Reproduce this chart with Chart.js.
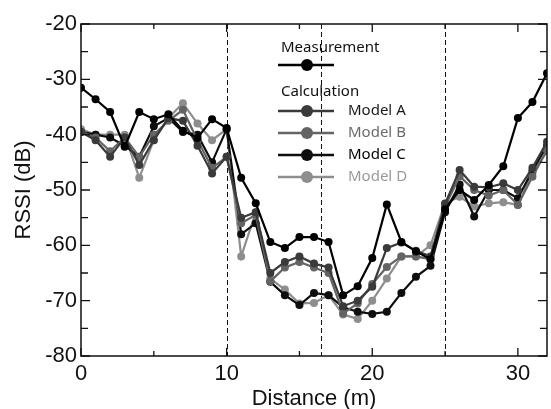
<!DOCTYPE html>
<html>
<head>
<meta charset="utf-8">
<script src="https://cdn.jsdelivr.net/npm/chart.js@4"></script>
<style>
  html, body { margin: 0; padding: 0; background: #fff; }
  #wrap { width: 551px; height: 409px; }
</style>
</head>
<body>
<div id="wrap"><canvas id="rssiChart"></canvas></div>
<script>
// distance along the route (m)
const distance = [0, 1, 2, 3, 4, 5, 6, 7, 8, 9, 10, 11, 12, 13, 14, 15, 16,
  17, 18, 19, 20, 21, 22, 23, 24, 25, 26, 27, 28, 29, 30, 31, 32];

// RSSI (dB)
const measurement = [-31.5, -33.6, -35.9, -42.2, -35.9, -37.2, -36.3, -39.3, -40.6, -37.2, -38.8,
  -47.8, -52.4, -59.4, -60.5, -58.5, -58.5, -59.4, -69, -67.4, -62.3, -52.6,
  -59.4, -61.1, -62.5, -53.5, -50, -51.8, -49.1, -45.7, -37, -34.1, -28.9];
const modelA = [-39.5, -41, -44, -40.5, -45.5, -41, -37, -37.5, -42, -47, -44,
  -55, -54, -65, -63, -62, -63.3, -64, -71, -70, -67.5, -60.5,
  -59.5, -61, -62, -52.5, -46.4, -49.4, -49.5, -48.8, -50, -46, -41.3];
const modelB = [-39.5, -40.5, -43, -40.5, -44, -40, -37.5, -35.5, -41, -46, -44,
  -56, -54.5, -66.5, -64, -63, -64, -65, -72.3, -70.5, -67, -63.9,
  -62, -62, -62.5, -53, -47.5, -50, -51, -50, -52.7, -47.6, -42.8];
const modelC = [-39.5, -40, -40.5, -42, -44, -38.5, -37, -39.5, -40, -45, -39,
  -58, -56, -66.6, -69, -70.8, -68.6, -69, -71.2, -72, -72.4, -72,
  -68.6, -65.7, -63.7, -54, -49, -54.8, -50, -50, -51.5, -46.5, -42];
const modelD = [-39, -40, -40, -40, -47.8, -41, -37, -34.3, -38, -41, -39,
  -62, -54, -66, -68, -70.5, -70.4, -69, -72.5, -73.3, -70, -66,
  -62, -62, -60, -52.4, -51.2, -53, -52.4, -52.2, -52.7, -47, -43];

const xTicks = [0, 10, 20, 30];
const xMinorTicks = [5, 15, 25];
const yTicks = [-80, -70, -60, -50, -40, -30, -20];
const yMinorTicks = [-75, -65, -55, -45, -35, -25];
const dividers = [10, 16.5, 25];

const seriesNames = ["Measurement", "Model A", "Model B", "Model C", "Model D"];
const seriesData = [measurement, modelA, modelB, modelC, modelD];
const seriesColors = ["#000000", "#3a3a3a", "#646464", "#0e0e0e", "#8e8e8e"];
const legendTextColors = ["#111111", "#1a1a1a", "#6a6a6a", "#000000", "#9a9a9a"];

function toPoints(values) {
  return values.map((v, i) => ({ x: distance[i], y: v }));
}

const datasets = seriesNames.map((name, i) => ({
  label: name,
  data: toPoints(seriesData[i]),
  borderColor: seriesColors[i],
  backgroundColor: seriesColors[i],
  borderWidth: 2.2,
  pointRadius: 4,
  pointBorderWidth: 0,
  tension: 0
}));

// inward ticks, frame, dashed dividers, axis titles and the legend
const decorations = {
  id: "decorations",
  beforeDatasetsDraw(chart) {
    const ctx = chart.ctx;
    const area = chart.chartArea;
    const xs = chart.scales.x;
    ctx.save();
    ctx.strokeStyle = "#111";
    ctx.lineWidth = 1;
    ctx.setLineDash([5, 3]);
    dividers.forEach((d) => {
      const px = Math.round(xs.getPixelForValue(d)) + 0.5;
      ctx.beginPath();
      ctx.moveTo(px, area.top);
      ctx.lineTo(px, area.bottom);
      ctx.stroke();
    });
    ctx.restore();
  },
  afterDraw(chart) {
    const ctx = chart.ctx;
    const area = chart.chartArea;
    const xs = chart.scales.x;
    const ys = chart.scales.y;
    ctx.save();
    ctx.strokeStyle = "#111";
    ctx.lineWidth = 1.5;
    ctx.strokeRect(area.left, area.top, area.right - area.left, area.bottom - area.top);

    ctx.lineWidth = 1.3;
    const tick = (list, len) => {
      list.forEach((v) => {
        const px = xs.getPixelForValue(v);
        ctx.beginPath();
        ctx.moveTo(px, area.bottom);
        ctx.lineTo(px, area.bottom - len);
        ctx.moveTo(px, area.top);
        ctx.lineTo(px, area.top + len);
        ctx.stroke();
      });
    };
    tick(xTicks, 8);
    tick(xMinorTicks, 5);
    [...yTicks, ...yMinorTicks].forEach((v) => {
      const py = ys.getPixelForValue(v);
      const len = yTicks.includes(v) ? 9 : 7;
      ctx.beginPath();
      ctx.moveTo(area.left, py);
      ctx.lineTo(area.left + len, py);
      ctx.moveTo(area.right, py);
      ctx.lineTo(area.right - len, py);
      ctx.stroke();
    });

    // axis titles
    ctx.fillStyle = "#111";
    ctx.font = "22px 'Liberation Sans', Arial, sans-serif";
    ctx.textAlign = "center";
    ctx.textBaseline = "middle";
    ctx.fillText("Distance (m)", (area.left + area.right) / 2, 399);
    ctx.translate(24, 190);
    ctx.rotate(-Math.PI / 2);
    ctx.fillText("RSSI (dB)", 0, 0);
    ctx.restore();

    // legend
    ctx.save();
    ctx.font = "15px 'Noto Sans', sans-serif";
    ctx.textAlign = "left";
    ctx.textBaseline = "middle";
    ctx.fillStyle = "#111";
    ctx.fillText("Measurement", 281, 48);
    ctx.fillText("Calculation", 281, 92);
    const rows = [65, 111, 133, 155, 177];
    rows.forEach((ry, i) => {
      ctx.strokeStyle = seriesColors[i];
      ctx.fillStyle = seriesColors[i];
      ctx.lineWidth = 2.5;
      ctx.beginPath();
      ctx.moveTo(278, ry);
      ctx.lineTo(334, ry);
      ctx.stroke();
      ctx.beginPath();
      ctx.arc(307, ry, 6, 0, Math.PI * 2);
      ctx.fill();
      if (i > 0) {
        ctx.fillStyle = legendTextColors[i];
        ctx.fillText(seriesNames[i], 348, ry);
      }
    });
    ctx.restore();
  }
};

const ctx = document.getElementById("rssiChart").getContext("2d");
const myChart = new Chart(ctx, {
  type: "line",
  data: { datasets: datasets },
  options: {
    responsive: true,
    maintainAspectRatio: false,
    animation: false,
    layout: { padding: { top: 24, right: 1, left: 0, bottom: 0 } },
    plugins: {
      legend: { display: false },
      tooltip: { enabled: false }
    },
    scales: {
      x: {
        type: "linear",
        min: 0,
        max: 32,
        grid: { display: false, drawTicks: false },
        border: { display: false },
        afterBuildTicks: (scale) => { scale.ticks = xTicks.map((v) => ({ value: v })); },
        afterFit: (scale) => { scale.height = 53; },
        ticks: {
          padding: 5,
          maxRotation: 0,
          color: "#111",
          font: { family: "'Liberation Sans', Arial, sans-serif", size: 22 }
        }
      },
      y: {
        min: -80,
        max: -20,
        grid: { display: false, drawTicks: false },
        border: { display: false },
        afterBuildTicks: (scale) => { scale.ticks = yTicks.map((v) => ({ value: v })); },
        afterFit: (scale) => { scale.width = 81; },
        ticks: {
          padding: 4,
          color: "#111",
          font: { family: "'Liberation Sans', Arial, sans-serif", size: 22 }
        }
      }
    }
  },
  plugins: [decorations]
});
</script>
</body>
</html>
